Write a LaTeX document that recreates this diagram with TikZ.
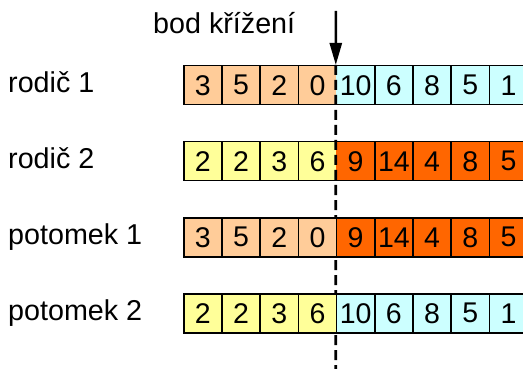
\documentclass[tikz,border=0pt]{standalone}
\usepackage{fontspec}
\setmainfont{Liberation Sans}
\usetikzlibrary{arrows.meta}
\definecolor{peach}{HTML}{FFCC99}
\definecolor{aqua}{HTML}{CCFFFF}
\definecolor{lemon}{HTML}{FFFF99}
\definecolor{flame}{HTML}{FF6600}
\begin{document}
\begin{tikzpicture}[x=1pt,y=-1pt,
  gene/.style={draw=black, line width=1.5pt, minimum width=38.2pt,
    minimum height=39pt, inner sep=0pt, anchor=north west,
    font=\fontsize{28.5}{28.5}\selectfont},
  rowlabel/.style={anchor=base west, inner sep=0pt,
    font=\fontsize{28.7}{28.7}\selectfont},
  cutline/.style={line width=2.8pt, dash pattern=on 10pt off 5pt},
  cutarrow/.style={line width=2.6pt, -{Triangle[length=22pt,width=12pt]}}]
\useasboundingbox (0,0) rectangle (523,369);
\coordinate (cuttop) at (335.8,11);
\coordinate (cutbottom) at (335.8,369);

% chromosomes: row / label / genes / colour before and after the cut;
% the cut line runs over the parents and under the offspring
\foreach \r/\name/\genes/\cl/\cr in {
    1/rodič 1/{3,5,2,0,10,6,8,5,1}/peach/aqua,
    2/rodič 2/{2,2,3,6,9,14,4,8,5}/lemon/flame,
    3/potomek 1/{3,5,2,0,9,14,4,8,5}/peach/flame,
    4/potomek 2/{2,2,3,6,10,6,8,5,1}/lemon/aqua}{
  \ifnum\r=3
    % the parents' boundary shows through the gaps of the cut line
    \fill[peach] (334.9,65.8) rectangle (335.8,103.2);
    \fill[aqua]  (335.8,65.8) rectangle (336.7,103.2);
    \fill[lemon] (334.9,141.8) rectangle (335.8,179.2);
    \fill[flame] (335.8,141.8) rectangle (336.7,179.2);
    \draw[cutline] (r1c5.north west) -- (cutbottom);
  \fi
  \pgfmathsetmacro{\top}{65+76*(\r-1)}
  \node[rowlabel] (lab\r) at (8,\top+27.7) {\name};
  \foreach \g [count=\i] in \genes {
    \ifnum\i<5 \def\fc{\cl}\else\def\fc{\cr}\fi
    \node[gene, fill=\fc] (r\r c\i) at (183+38.2*\i-38.2,\top) {\g};
  }
}

% crossover point
\node[rowlabel] (cutlabel) at (153,33.3) {bod křížení};
\draw[cutarrow] (cuttop) -- (r1c5.north west);
\end{tikzpicture}
\end{document}
